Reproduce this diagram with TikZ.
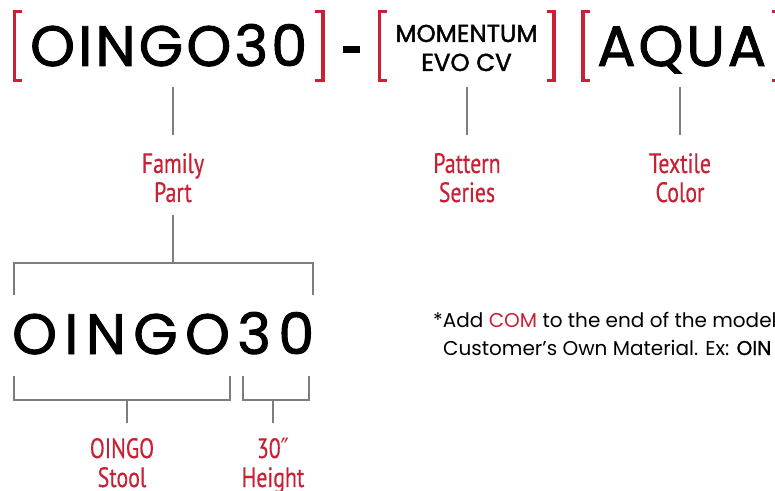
\documentclass[tikz,border=0pt]{standalone}
\usepackage{fontspec}
\setmainfont{Poppins}
\newfontfamily\medfont{Poppins}[FakeBold=1.6]
\newfontfamily\notebold{Poppins}[FakeBold=1.2]
\newfontfamily\labfont{PT Sans}[FakeStretch=0.78,FakeBold=0.4]
\newfontfamily\primefont{DejaVu Sans}[FakeStretch=0.8]
\definecolor{brred}{RGB}{200,32,52}
\definecolor{lngray}{RGB}{125,125,125}
\tikzset{
  brk/.style={draw=brred, line width=3.3bp, line cap=butt},
  conn/.style={draw=lngray, line width=1.3bp},
  big/.style={anchor=base west, inner sep=0pt, font=\medfont\fontsize{57bp}{57bp}\selectfont},
  mid/.style={anchor=base, inner sep=0pt, font=\medfont\fontsize{24.5bp}{24bp}\selectfont},
  lab/.style={anchor=base, inner sep=0pt, text=brred, font=\labfont\fontsize{28bp}{29bp}\selectfont},
  note/.style={anchor=base west, inner sep=0pt, font=\fontsize{20bp}{20bp}\selectfont},
}
\begin{document}
\begin{tikzpicture}[x=1bp,y=-1bp]
\useasboundingbox (0,0) rectangle (775,491);
\clip (0,0) rectangle (775,491);
% brackets
\draw[brk] (21.7,11.65) -- (14.3,11.65) -- (14.3,80.35) -- (21.7,80.35);
\draw[brk] (315,11.65) -- (323,11.65) -- (323,80.35) -- (315,80.35);
\draw[brk] (387,11.65) -- (379.7,11.65) -- (379.7,80.35) -- (387,80.35);
\draw[brk] (546.7,11.65) -- (554,11.65) -- (554,80.35) -- (546.7,80.35);
\draw[brk] (590,11.65) -- (583,11.65) -- (583,80.35) -- (590,80.35);
\draw[brk] (771.7,11.65) -- (779,11.65) -- (779,80.35) -- (771.7,80.35);
\fill[black] (343,46) rectangle (360,53);
% top texts
\node[big] (fam) at (30,66) {\makebox[277bp][s]{O\hfill I\hfill N\hfill G\hfill O\hfill 3\hfill 0}};
\node[mid] (mom) at (466.5,42) {MOMENTUM};
\node[mid] (evo) at (466.5,71) {EVO CV};
\node[big] (aqua) at (597,66) {\makebox[169bp][s]{A\hfill Q\hfill U\hfill A}};
% labels
\node[lab] (famlab) at (173,173) {Family};
\node[lab] (famlab2) at (173,202) {Part};
\node[lab] (patlab) at (467,173) {Pattern};
\node[lab] (patlab2) at (467,202) {Series};
\node[lab] (texlab) at (680,173) {Textile};
\node[lab] (texlab2) at (680,202) {Color};
\node[lab] (oinlab) at (122,458) {OINGO};
\node[lab] (oinlab2) at (122,487) {Stool};
\node[lab] (htlab) at (273,458) {30{\primefont\fontsize{28bp}{28bp}\selectfont ″}};
\node[lab] (htlab2) at (273,487) {Height};
% lower code
\node[big] (code) at (12,354) {\makebox[302bp][s]{O\hfill I\hfill N\hfill G\hfill O\hfill 3\hfill 0}};
% note
\node[note] (n1) at (433,327) {*Add \textcolor{brred}{COM} to the end of the model};
\node[note] (n2) at (443,355) {Customer’s Own Material. Ex: {\notebold OIN}};
% connectors
\coordinate (a1) at (173,87); \coordinate (a2) at (173,135);
\coordinate (b1) at (467,87); \coordinate (b2) at (467,135);
\coordinate (c1) at (680,87); \coordinate (c2) at (680,135);
\coordinate (d1) at (173,215); \coordinate (d2) at (173,263);
\draw[conn] (a1) -- (a2);
\draw[conn] (b1) -- (b2);
\draw[conn] (c1) -- (c2);
\draw[conn] (d1) -- (d2);
\coordinate (e1) at (14,295); \coordinate (e2) at (313,295);
\draw[conn] (e1) |- (d2) -| (e2);
\coordinate (f1) at (14,376); \coordinate (f2) at (230,376);
\draw[conn] (f1) -- (14,400) -- (230,400) -- (f2);
\coordinate (f3) at (127,400); \coordinate (f4) at (127,423);
\draw[conn] (f3) -- (f4);
\coordinate (g1) at (243,376); \coordinate (g2) at (309,376);
\draw[conn] (g1) -- (243,400) -- (309,400) -- (g2);
\coordinate (g3) at (273,400); \coordinate (g4) at (273,423);
\draw[conn] (g3) -- (g4);
\end{tikzpicture}
\end{document}
